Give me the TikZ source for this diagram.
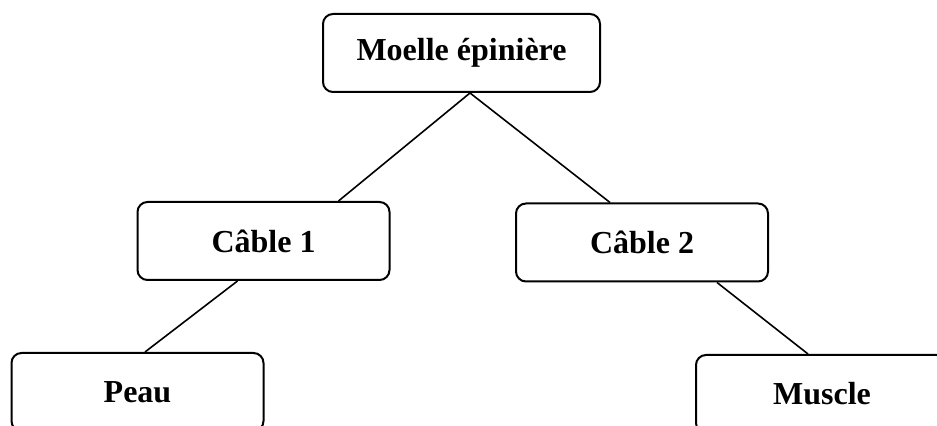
\documentclass[tikz,border=0pt]{standalone}
\usepackage{fontspec}
\setmainfont{Liberation Serif}
\usetikzlibrary{arrows}
\tikzstyle{boite}=[draw, line width=1pt, rounded corners=5pt, text centered,
  minimum width=126pt, minimum height=39pt,
  font=\fontsize{16}{19}\selectfont\bfseries]
\tikzstyle{racine} = [boite, minimum width=138.5pt]
\tikzstyle{lien} = [draw, line width=0.8pt]
\newcommand{\organe}[3]{node (#1) [#3] {#2}}

\begin{document}
\begin{tikzpicture}[x=0.5pt,y=0.5pt]

  % zone visible (les boites du bas sont coupees)
  \clip (0,0) rectangle (937,-426);

  % boites
  \path (461.5,-53) \organe{MOELLE}{Moelle épinière}{racine};
  \path (MOELLE.center)+(-198,-188) \organe{CABLE1}{Câble 1}{boite};
  \path (MOELLE.center)+(180.5,-189.5) \organe{CABLE2}{Câble 2}{boite};
  \path (CABLE1.center)+(-126,-151) \organe{PEAU}{Peau}{boite};
  \path (CABLE2.center)+(180,-151.5) \organe{MUSCLE}{Muscle}{boite};

  % liens entre les boites
  \path [lien] ([xshift=4.25pt]MOELLE.south) -- ([xshift=37.5pt]CABLE1.north);
  \path [lien] ([xshift=4.25pt]MOELLE.south) -- ([xshift=-16pt]CABLE2.north);
  \path [lien] ([xshift=-13pt]CABLE1.south) -- ([xshift=3.75pt]PEAU.north);
  \path [lien] ([xshift=37.5pt]CABLE2.south) -- ([xshift=-7pt]MUSCLE.north);

\end{tikzpicture}
\end{document}
